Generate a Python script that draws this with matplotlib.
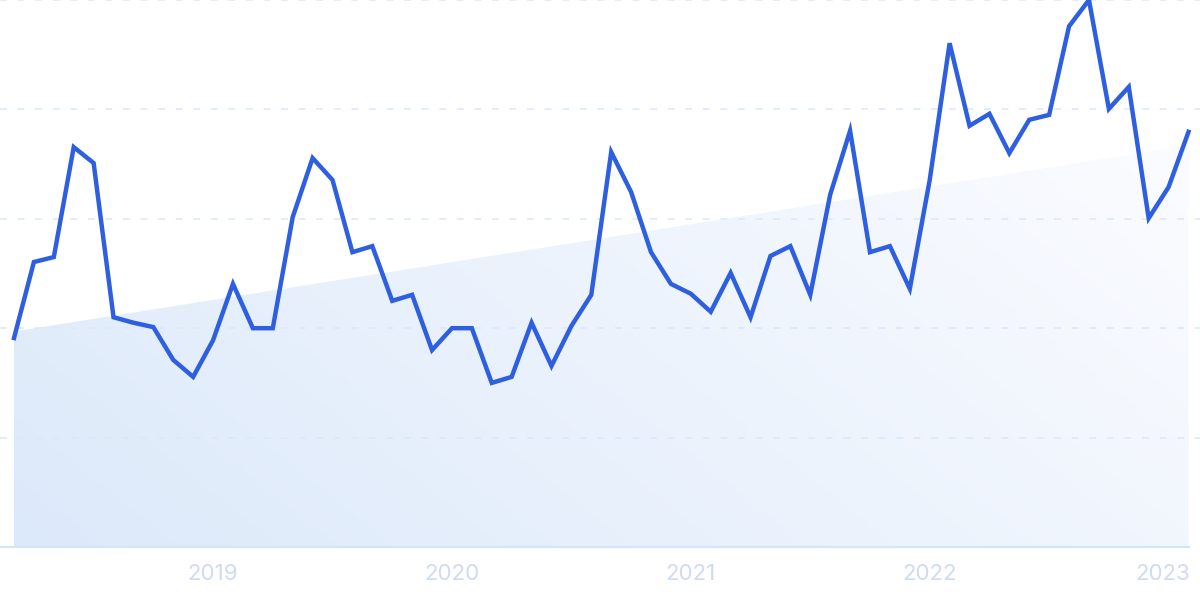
import numpy as np
import matplotlib.pyplot as plt
import matplotlib.colors as mcolors
from matplotlib.transforms import ScaledTranslation

# monthly interest values, Mar 2018 .. Feb 2023
months = np.arange(60)
values = [38.2, 52.1, 53.0, 73.1, 70.2, 42.0, 41.0, 40.2, 34.2, 31.1,
          37.8, 48.1, 40.0, 40.0, 60.3, 71.1, 67.1, 53.9, 55.0, 45.0,
          46.1, 36.0, 40.0, 40.0, 30.0, 31.1, 41.0, 33.1, 40.4, 46.1,
          72.2, 64.9, 53.9, 48.1, 46.3, 43.0, 50.1, 42.0, 53.2, 55.0,
          46.1, 64.4, 76.1, 53.9, 55.0, 47.2, 67.1, 92.1, 77.0, 79.2,
          72.0, 78.1, 79.0, 95.2, 100.0, 80.1, 84.1, 60.1, 65.8, 75.9]
trend_start, trend_end = 39.4, 73.4
year_ticks = [10, 22, 34, 46, 58]
year_labels = ["2019", "2020", "2021", "2022", "2023"]
grid_levels = [20, 40, 60, 80, 100]

line_color = "#2d5fe0"
grid_color = "#d9e8fb"
label_color = "#d0daf4"

plt.rcParams['font.family'] = ['Inter', 'DejaVu Sans']

fig = plt.figure(figsize=(12, 5.99), dpi=100)
ax = fig.add_axes([0, 52 / 599, 1, 547 / 599])

# pixel 14 -> month 0, ~19.9 px per month
step = 1174.5 / 59
ax.set_xlim(-14 / step, 59 + (1200 - 1188.5) / step)
ax.set_ylim(0, 100)

# gradient area under the trend line
trend = np.linspace(trend_start, trend_end, len(months))
poly = ax.fill_between(months, 0, trend, color="none", lw=0)
nx, ny = 300, 150
u = np.linspace(0, 1, nx)[None, :]
v = np.linspace(0, 1, ny)[:, None]
t = np.clip(0.7 * u + 0.3 * (1 - v), 0, 1)
c0 = np.array(mcolors.to_rgb("#dce9fa"))
c1 = np.array(mcolors.to_rgb("#fbfcff"))
img = c0[None, None, :] * (1 - t[..., None]) + c1[None, None, :] * t[..., None]
im = ax.imshow(img, extent=[0, 59, 0, trend_end], origin="upper", aspect="auto", zorder=1)
clip = poly.get_paths()[0]
im.set_clip_path(clip, transform=ax.transData)

for g in grid_levels:
    ax.axhline(g, color=grid_color, lw=1.1, ls=(0, (4.5, 7)), zorder=2, clip_on=False)
ax.plot([ax.get_xlim()[0], 59.05], [0, 0], color="#d2e6fa", lw=1.5, zorder=2, clip_on=False)

ax.plot(months, values, color=line_color, lw=3.2, solid_joinstyle="miter",
        zorder=3, clip_on=False)

ax.set_xticks(year_ticks)
ax.set_xticklabels(year_labels, fontsize=16, color=label_color)
ax.tick_params(axis="x", length=0, pad=12)
ax.set_yticks([])
# last label sits a bit left of its tick
lab = ax.get_xticklabels()[-1]
lab.set_transform(lab.get_transform() + ScaledTranslation(-6 / 100, 0, fig.dpi_scale_trans))

for s in ax.spines.values():
    s.set_visible(False)

fig.savefig("out.png", dpi=100)
